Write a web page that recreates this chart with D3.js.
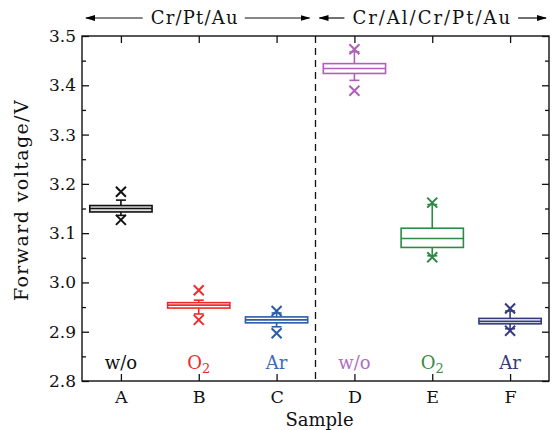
<!doctype html>
<html>
<head>
<meta charset="utf-8">
<script src="https://d3js.org/d3.v7.min.js"></script>
<style>
  body { margin: 0; background: #fff; }
</style>
</head>
<body>
<svg id="chart"></svg>
<script>
// data
const samples = ["A", "B", "C", "D", "E", "F"];
const treatments = ["w/o", "O2", "Ar", "w/o", "O2", "Ar"];
const colors = ["#111111", "#ee2a2a", "#2a5ca8", "#b060b8", "#2e8a45", "#353a80"];
const labelColors = ["#111111", "#ee2a2a", "#3a6cb8", "#b070c0", "#3a8a45", "#353a80"];
const q1 = [3.143, 2.948, 2.918, 3.424, 3.071, 2.916];
const med = [3.150, 2.954, 2.924, 3.434, 3.089, 2.921];
const q3 = [3.156, 2.959, 2.930, 3.444, 3.110, 2.927];
const whiskLow = [3.136, 2.936, 2.910, 3.410, 3.054, 2.906];
const whiskHigh = [3.167, 2.964, 2.938, 3.468, 3.158, 2.942];
const outLow = [3.127, 2.924, 2.897, 3.389, 3.051, 2.902];
const outHigh = [3.184, 2.984, 2.942, 3.473, 3.162, 2.947];
const yTicks = [2.8, 2.9, 3.0, 3.1, 3.2, 3.3, 3.4, 3.5];
const groups = [
  { name: "Cr/Pt/Au", from: "A", to: "C" },
  { name: "Cr/Al/Cr/Pt/Au", from: "D", to: "F" }
];

const FONT = '"DejaVu Serif"';
const W = 560, H = 430;
const margin = { top: 36, right: 11, bottom: 49, left: 82 };
const iw = W - margin.left - margin.right, ih = H - margin.top - margin.bottom;

const svg = d3.select("#chart").attr("width", W).attr("height", H)
  .attr("font-family", FONT);
svg.append("defs").append("marker")
  .attr("id", "arr").attr("viewBox", "0 0 10 10").attr("refX", 9).attr("refY", 5)
  .attr("markerWidth", 10).attr("markerHeight", 10).attr("markerUnits", "userSpaceOnUse")
  .attr("orient", "auto")
  .append("path").attr("d", "M0,2 L10,5 L0,8 Z").attr("fill", "#000");

const g = svg.append("g").attr("transform", `translate(${margin.left},${margin.top})`);

const x = d3.scalePoint().domain(samples).range([0, iw]).padding(0.5);
const y = d3.scaleLinear().domain([2.8, 3.5]).range([ih, 0]);
const step = x.step();
const boxW = step * 0.8;

// minor + major ticks, all four sides, inward
const minor = d3.range(2.85, 3.5, 0.1);
g.append("g").call(d3.axisLeft(y).tickValues(yTicks).tickSize(-7).tickPadding(6).tickFormat(d3.format(".1f")))
  .call(a => a.select(".domain").remove());
g.append("g").call(d3.axisLeft(y).tickValues(minor).tickSize(-4).tickFormat(""))
  .call(a => a.select(".domain").remove());
g.append("g").attr("transform", `translate(${iw},0)`)
  .call(d3.axisRight(y).tickValues(yTicks).tickSize(-7).tickFormat(""))
  .call(a => a.select(".domain").remove());
g.append("g").attr("transform", `translate(${iw},0)`)
  .call(d3.axisRight(y).tickValues(minor).tickSize(-4).tickFormat(""))
  .call(a => a.select(".domain").remove());
g.append("g").attr("class", "xax").attr("transform", `translate(0,${ih})`)
  .call(d3.axisBottom(x).tickSize(-7).tickPadding(10))
  .call(a => a.select(".domain").remove());
g.append("g").call(d3.axisTop(x).tickSize(-7).tickFormat(""))
  .call(a => a.select(".domain").remove());
g.selectAll(".tick text").attr("font-size", 17).attr("fill", "#111");
g.selectAll(".xax .tick text").attr("font-size", 17.5);
g.selectAll(".tick line").attr("stroke", "#111").attr("stroke-width", 1.3);

g.append("rect").attr("width", iw).attr("height", ih)
  .attr("fill", "none").attr("stroke", "#111").attr("stroke-width", 1.4);

// divider between groups
const divX = (x("C") + x("D")) / 2;
g.append("line").attr("x1", divX).attr("x2", divX).attr("y1", 0).attr("y2", ih)
  .attr("stroke", "#111").attr("stroke-width", 1.3).attr("stroke-dasharray", "7,5");

// boxes
const idx = d3.range(samples.length);
const bx = g.selectAll(".bx").data(idx).join("g").attr("class", "bx")
  .attr("transform", i => `translate(${x(samples[i])},0)`)
  .attr("stroke", i => colors[i]).attr("stroke-width", 1.6).attr("fill", "none");
bx.append("line").attr("y1", i => y(q3[i])).attr("y2", i => y(whiskHigh[i]));
bx.append("line").attr("y1", i => y(q1[i])).attr("y2", i => y(whiskLow[i]));
bx.append("line").attr("x1", -5).attr("x2", 5).attr("y1", i => y(whiskHigh[i])).attr("y2", i => y(whiskHigh[i]));
bx.append("line").attr("x1", -5).attr("x2", 5).attr("y1", i => y(whiskLow[i])).attr("y2", i => y(whiskLow[i]));
bx.append("rect").attr("x", -boxW / 2).attr("width", boxW)
  .attr("y", i => y(q3[i])).attr("height", i => y(q1[i]) - y(q3[i]))
  .attr("fill", i => i === 0 ? "#e4e4e4" : "#fff");
bx.append("line").attr("x1", -boxW / 2).attr("x2", boxW / 2)
  .attr("y1", i => y(med[i])).attr("y2", i => y(med[i]));
const cross = "M-5,-5L5,5M-5,5L5,-5";
bx.append("path").attr("d", cross).attr("stroke-width", 2)
  .attr("transform", i => `translate(0,${y(outHigh[i])})`);
bx.append("path").attr("d", cross).attr("stroke-width", 2)
  .attr("transform", i => `translate(0,${y(outLow[i])})`);

// treatment labels
const tl = g.selectAll(".tl").data(idx).join("text").attr("class", "tl")
  .attr("x", i => x(samples[i])).attr("y", ih - 12)
  .attr("text-anchor", "middle").attr("font-size", 18)
  .attr("fill", i => labelColors[i]);
tl.each(function (i) {
  const t = d3.select(this);
  const m = treatments[i].match(/^([A-Za-z]+)(\d+)$/);
  if (m) {
    t.append("tspan").text(m[1]);
    t.append("tspan").text(m[2]).attr("font-size", 13).attr("dy", 4);
  } else t.text(treatments[i]);
});

// axis titles
svg.append("text").attr("x", margin.left + iw / 2 + 4).attr("y", H - 4)
  .attr("text-anchor", "middle").attr("font-size", 18)
  .attr("fill", "#111").text("Sample");
svg.append("text").attr("transform", `translate(28,200) rotate(-90)`)
  .attr("text-anchor", "middle").attr("font-size", 19).attr("letter-spacing", 1.4)
  .attr("fill", "#111").text("Forward voltage/V");

svg.selectAll("text").style("font-family", FONT);

// group headers with arrows
const headSpacing = [1.2, 2];
groups.forEach((gr, k) => {
  const x0 = k === 0 ? 4 : divX + 4;
  const x1 = k === 0 ? divX - 6 : iw - 3;
  const cx = (x(gr.from) + x(gr.to)) / 2 - (k === 0 ? 4 : 0);
  const t = g.append("text").attr("x", cx).attr("y", -12).attr("text-anchor", "middle")
    .style("font-family", FONT)
    .attr("font-size", 18).attr("letter-spacing", headSpacing[k]).attr("fill", "#111").text(gr.name);
  const bb = t.node().getBBox();
  g.append("line").attr("x1", bb.x - 8).attr("x2", x0).attr("y1", -18).attr("y2", -18)
    .attr("stroke", "#111").attr("stroke-width", 1.2).attr("marker-end", "url(#arr)");
  g.append("line").attr("x1", bb.x + bb.width + 6).attr("x2", x1).attr("y1", -18).attr("y2", -18)
    .attr("stroke", "#111").attr("stroke-width", 1.2).attr("marker-end", "url(#arr)");
});
</script>
</body>
</html>
